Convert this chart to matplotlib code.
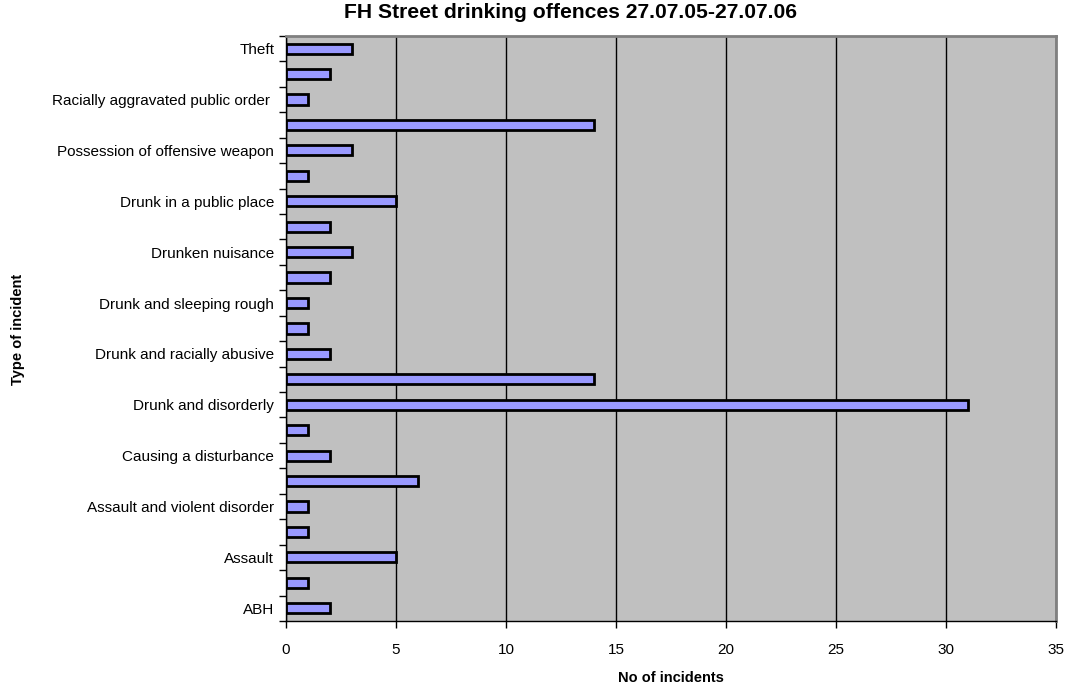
import matplotlib
matplotlib.use("Agg")
import matplotlib.pyplot as plt
import numpy as np

# categories bottom -> top; every second label is hidden in the original chart
categories = [
    "ABH", "", "Assault", "", "Assault and violent disorder", "",
    "Causing a disturbance", "", "Drunk and disorderly", "",
    "Drunk and racially abusive", "", "Drunk and sleeping rough", "",
    "Drunken nuisance", "", "Drunk in a public place", "",
    "Possession of offensive weapon", "", "Racially aggravated public order ", "",
    "Theft",
]
incidents = [2, 1, 5, 1, 1, 6, 2, 1, 31, 14, 2, 1, 1, 2, 3, 2, 5, 1, 3, 14, 1, 2, 3]
x_ticks = [0, 5, 10, 15, 20, 25, 30, 35]

plt.rcParams["font.family"] = ["Liberation Sans", "DejaVu Sans"]

fig = plt.figure(figsize=(10.69, 6.86), dpi=100)
ax = fig.add_axes([0.2675, 0.0948, 0.7203, 0.8528])
ax.set_facecolor("#C0C0C0")

y = np.arange(len(categories))
ax.barh(y, incidents, height=0.4, color="#9999FF", edgecolor="black", linewidth=2, zorder=3)

ax.set_xlim(0, 35)
ax.set_ylim(-0.5, len(categories) - 0.5)
ax.set_xticks(x_ticks)
ax.set_yticks(y)
ax.set_yticklabels(categories)
ax.set_yticks(np.arange(len(categories) + 1) - 0.5, minor=True)
ax.tick_params(axis="y", which="major", length=0, pad=8.5, labelsize=11)
ax.tick_params(axis="y", which="minor", length=5, width=1, direction="out")
ax.tick_params(axis="x", length=5, width=1, direction="out", pad=11, labelsize=11)
ax.grid(axis="x", color="black", linewidth=1, zorder=1)

for side in ["top", "right"]:
    ax.spines[side].set_color("#808080")
    ax.spines[side].set_linewidth(2)
for side in ["left", "bottom"]:
    ax.spines[side].set_color("black")
    ax.spines[side].set_linewidth(1)

fig.text(570 / 1069, 1 - 13 / 686, "FH Street drinking offences 27.07.05-27.07.06",
         fontsize=15.2, fontweight="bold", ha="center", va="center")
ax.set_xlabel("No of incidents", fontsize=10.5, fontweight="bold", labelpad=10)
fig.text(18 / 1069, 1 - 329 / 686, "Type of incident", rotation=90, fontsize=10.5,
         fontweight="bold", va="center", ha="center")

fig.savefig("out.png", dpi=100)
